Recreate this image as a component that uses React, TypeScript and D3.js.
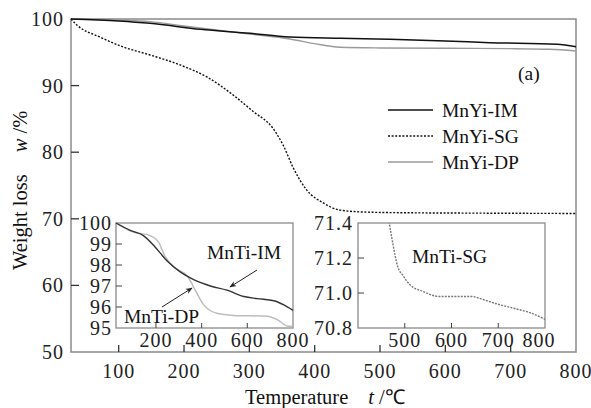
import React from 'react'
import * as d3 from 'd3'

// main chart: temperature (°C) vs weight (%)
const mnYiIM: [number, number][] = [
  [27, 100], [100, 99.7], [148, 99.35], [225, 98.45], [301, 97.85], [362, 97.3],
  [440, 97.1], [515, 96.95], [600, 96.7], [668, 96.45], [771, 96.2], [800, 95.85]
]
const mnYiSG: [number, number][] = [
  [27, 100], [36, 99.1], [71, 97.3], [107, 95.8], [148, 94.6], [194, 93.1],
  [235, 91.3], [275, 88.6], [306, 86.1], [336, 83.6], [352, 81], [367, 77.7],
  [388, 74.3], [413, 72.4], [439, 71.3], [480, 71.0], [550, 70.9], [650, 70.85], [800, 70.8]
]
const mnYiDP: [number, number][] = [
  [27, 100], [100, 99.85], [148, 99.6], [200, 98.95], [250, 98.35], [300, 97.75],
  [362, 97.0], [400, 96.3], [439, 95.75], [500, 95.65], [600, 95.6], [700, 95.55],
  [760, 95.45], [800, 95.2]
]
// inset 1
const mnTiIM: [number, number][] = [
  [25, 100], [87, 99.65], [145, 99.4], [196, 98.86], [248, 98.2], [306, 97.67],
  [365, 97.3], [438, 97.0], [511, 96.8], [585, 96.5], [643, 96.4], [716, 96.3],
  [760, 96.1], [800, 95.84]
]
const mnTiDP: [number, number][] = [
  [25, 100], [101, 99.57], [174, 99.4], [211, 99.1], [240, 98.4], [292, 97.8],
  [336, 97.5], [372, 96.8], [409, 96.1], [467, 95.7], [541, 95.6], [687, 95.56],
  [731, 95.4], [775, 95.1], [800, 95.08]
]
// inset 2
const mnTiSG: [number, number][] = [
  [462, 71.5], [467, 71.4], [474, 71.29], [485, 71.15], [496, 71.1], [510, 71.05],
  [538, 71.01], [574, 70.98], [595, 70.98], [645, 70.98], [659, 70.97], [694, 70.94],
  [737, 70.91], [765, 70.89], [800, 70.85]
]

const mainXTicks = [100, 200, 300, 400, 500, 600, 700, 800]
const mainYTicks = [50, 60, 70, 80, 90, 100]
const in1XTicks = [200, 400, 600, 800]
const in1YTicks = [95, 96, 97, 98, 99, 100]
const in2XTicks = [500, 600, 700, 800]
const in2YTicks = [70.8, 71.0, 71.2, 71.4]

const legendItems = ['MnYi-IM', 'MnYi-SG', 'MnYi-DP']

const font = "'Liberation Serif', 'Times New Roman', serif"
const frame = '#8a8a8a'

const x = d3.scaleLinear().domain([27, 800]).range([71, 576])
const y = d3.scaleLinear().domain([50, 100]).range([352, 19])
const x1 = d3.scaleLinear().domain([25, 800]).range([116, 293])
const y1 = d3.scaleLinear().domain([95, 100]).range([328, 223])
const x2 = d3.scaleLinear().domain([400, 800]).range([358, 545])
const y2 = d3.scaleLinear().domain([70.8, 71.4]).range([328, 223])

const mk = (sx: d3.ScaleLinear<number, number>, sy: d3.ScaleLinear<number, number>) =>
  d3.line<[number, number]>().x(d => sx(d[0])).y(d => sy(d[1])).curve(d3.curveMonotoneX)

const tickText = { fontSize: 20, fill: '#222', letterSpacing: 1 }

const App = () => {
  const main = mk(x, y)
  const l1 = mk(x1, y1)
  const l2 = mk(x2, y2)
  const legY = [110, 136, 162]
  return (
    <svg width={591} height={408} style={{ position: 'absolute', left: 0, top: 0, background: '#fff', fontFamily: font }}>
      <defs>
        <clipPath id="c2"><rect x={358} y={223} width={187} height={105} /></clipPath>
        <marker id="arr" viewBox="0 0 10 10" refX={9} refY={5} markerWidth={7} markerHeight={7} orient="auto">
          <path d="M0,1 L10,5 L0,9 L3,5 Z" fill="#222" />
        </marker>
      </defs>
      {/* main frame */}
      <rect x={71} y={19} width={505} height={333} fill="none" stroke={frame} strokeWidth={1.5} />
      {mainYTicks.map(t => (
        <g key={t}>
          {t > 50 && t < 100 && <line x1={71} x2={79} y1={y(t)} y2={y(t)} stroke="#333" strokeWidth={1.3} />}
          <text x={64} y={y(t)} dy="0.35em" textAnchor="end" {...tickText}>{t}</text>
        </g>
      ))}
      {mainXTicks.map(t => (
        <g key={t}>
          {t < 800 && <line x1={x(t)} x2={x(t)} y1={352} y2={345} stroke="#333" strokeWidth={1.3} />}
          <text x={x(t)} y={378} textAnchor="middle" {...tickText}>{t}</text>
        </g>
      ))}
      <path d={main(mnYiDP) || ''} fill="none" stroke="#9a9a9a" strokeWidth={1.4} />
      <path d={main(mnYiIM) || ''} fill="none" stroke="#111" strokeWidth={1.5} />
      <path d={main(mnYiSG) || ''} fill="none" stroke="#111" strokeWidth={1.4} strokeDasharray="2,1.6" />

      {/* legend */}
      {legendItems.map((name, i) => (
        <g key={name}>
          <line x1={388} x2={433} y1={legY[i]} y2={legY[i]}
            stroke={i === 2 ? '#9a9a9a' : '#111'} strokeWidth={i === 0 ? 1.6 : 1.3}
            strokeDasharray={i === 1 ? '2,1.6' : undefined} />
          <text x={442} y={legY[i] + 7} fontSize={19.5} fill="#111">{name}</text>
        </g>
      ))}
      <text x={518} y={80} fontSize={19.5} fill="#111">(a)</text>

      {/* inset 1 */}
      <rect x={116} y={223} width={177} height={105} fill="#fff" stroke={frame} strokeWidth={1.3} />
      {in1YTicks.map(t => (
        <g key={t}>
          {t > 95 && t < 100 && <line x1={116} x2={122} y1={y1(t)} y2={y1(t)} stroke="#444" />}
          <text x={112} y={y1(t)} dy="0.35em" textAnchor="end" {...tickText}>{t}</text>
        </g>
      ))}
      {in1XTicks.map(t => (
        <g key={t}>
          {t < 800 && <line x1={x1(t)} x2={x1(t)} y1={328} y2={323} stroke="#444" />}
          <text x={x1(t)} y={347} textAnchor="middle" {...tickText}>{t}</text>
        </g>
      ))}
      <path d={l1(mnTiDP) || ''} fill="none" stroke="#bdbdbd" strokeWidth={1.5} />
      <path d={l1(mnTiIM) || ''} fill="none" stroke="#333" strokeWidth={1.4} />
      <text x={207} y={259} fontSize={19.5} fill="#111">MnTi-IM</text>
      <text x={124} y={323} fontSize={19.5} fill="#111">MnTi-DP</text>
      <line x1={257} y1={270} x2={230} y2={287} stroke="#222" strokeWidth={1} markerEnd="url(#arr)" />
      <line x1={162} y1={307} x2={192} y2={288} stroke="#222" strokeWidth={1} markerEnd="url(#arr)" />

      {/* inset 2 */}
      <rect x={358} y={223} width={187} height={105} fill="#fff" stroke={frame} strokeWidth={1.3} />
      {in2YTicks.map(t => (
        <g key={t}>
          {t > 70.8 && t < 71.4 && <line x1={358} x2={364} y1={y2(t)} y2={y2(t)} stroke="#444" />}
          <text x={353} y={y2(t)} dy="0.35em" textAnchor="end" {...tickText}>{t.toFixed(1)}</text>
        </g>
      ))}
      {in2XTicks.map(t => (
        <g key={t}>
          {t < 800 && <line x1={x2(t)} x2={x2(t)} y1={328} y2={323} stroke="#444" />}
          <text x={x2(t) - (t === 800 ? 6 : 0)} y={347} textAnchor="middle" {...tickText}>{t}</text>
        </g>
      ))}
      <path d={l2(mnTiSG) || ''} fill="none" stroke="#777" strokeWidth={1.4} strokeDasharray="2,1.2" clipPath="url(#c2)" />
      <text x={412} y={263} fontSize={19.5} fill="#111">MnTi-SG</text>

      {/* axis titles */}
      <text x={245} y={404} fontSize={20.5} fill="#111">
        Temperature<tspan dx={20} fontStyle="italic">t</tspan><tspan> /℃</tspan>
      </text>
      <text transform="translate(27,270) rotate(-90)" fontSize={20.5} fill="#111">
        Weight loss<tspan dx={22} fontStyle="italic">w</tspan><tspan> /%</tspan>
      </text>
    </svg>
  )
}

export default App
